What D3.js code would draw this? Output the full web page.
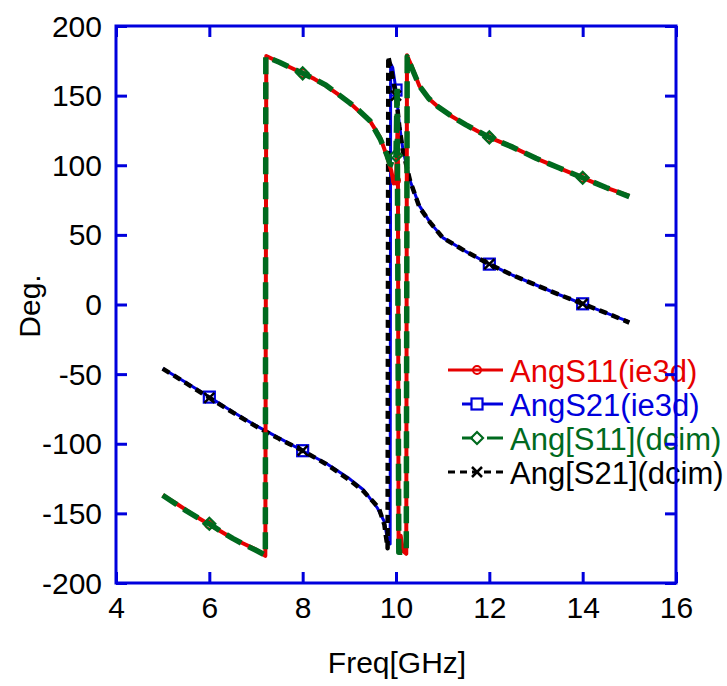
<!DOCTYPE html>
<html>
<head>
<meta charset="utf-8">
<script src="https://cdn.jsdelivr.net/npm/d3@7"></script>
<style>
  html, body { margin: 0; padding: 0; background: #fff; }
  svg { display: block; }
  text { font-family: "Liberation Sans", Arial, Helvetica, sans-serif; }
</style>
</head>
<body>
<svg id="chart" width="727" height="686"></svg>
<script>
// Phase of S-parameters (degrees) versus frequency (GHz)
const xTicks = [4, 6, 8, 10, 12, 14, 16];
const yTicks = [-200, -150, -100, -50, 0, 50, 100, 150, 200];
const markerFreqs = [6, 8, 10, 12, 14];

// [frequency GHz, angle deg]
const angS11ie3d = [
  [5.0, -137], [5.25, -142], [5.5, -147.5], [5.75, -153], [6.0, -158], [6.25, -163],
  [6.5, -168], [6.75, -172], [7.0, -176], [7.2, -180.5], [7.22, 178.5], [7.5, 174],
  [7.75, 170], [8.0, 166], [8.25, 162], [8.5, 157], [8.8, 150], [9.0, 145],
  [9.2, 139], [9.44, 132], [9.66, 120], [9.81, 106], [9.9, 96], [9.95, 87],
  [10.0, 89], [10.04, 134], [10.055, -175], [10.1, -166], [10.15, -177], [10.22, -179],
  [10.235, 179], [10.35, 170], [10.5, 157], [10.7, 148], [10.9, 142], [11.2, 135],
  [11.5, 129], [12.0, 120], [12.5, 113], [13.0, 105], [13.5, 98], [14.0, 91],
  [14.5, 84], [15.0, 78]
];

const angS21ie3d = [
  [5.0, -46], [5.5, -56], [6.0, -66.5], [6.5, -77], [7.0, -87], [7.5, -96],
  [8.0, -105], [8.5, -114], [9.0, -125], [9.3, -133], [9.6, -146], [9.75, -156],
  [9.83, -171], [9.875, -172], [9.885, 173], [9.93, 170], [10.0, 154], [10.07, 130],
  [10.15, 111], [10.3, 89], [10.5, 71], [10.73, 59], [11.0, 48], [11.5, 38],
  [12.0, 29], [12.5, 21], [13.0, 14], [13.5, 7], [14.0, 0.5], [14.5, -6], [15.0, -12.5]
];

const angS11dcim = [
  [5.0, -137], [5.25, -142.5], [5.5, -148], [5.75, -153], [6.0, -157.5], [6.25, -163],
  [6.5, -168], [6.75, -172.5], [7.0, -176.5], [7.2, -180], [7.21, 178], [7.5, 174],
  [7.75, 170], [8.0, 166], [8.25, 162], [8.5, 157.5], [8.8, 150], [9.0, 145],
  [9.2, 139.5], [9.44, 132], [9.66, 119], [9.81, 107], [9.87, 101], [9.95, 100],
  [10.0, 107], [10.025, 157], [10.06, -178], [10.22, -178], [10.24, 178], [10.35, 169],
  [10.5, 157], [10.7, 148], [10.9, 142], [11.2, 135], [11.5, 129], [12.0, 120],
  [12.5, 113], [13.0, 105], [13.5, 98], [14.0, 91], [14.5, 84], [15.0, 77.5]
];

const angS21dcim = [
  [5.0, -46], [5.5, -56.5], [6.0, -67], [6.5, -77.5], [7.0, -87.5], [7.5, -96.5],
  [8.0, -105], [8.5, -114.5], [9.0, -126], [9.3, -134], [9.63, -146], [9.75, -158],
  [9.82, -175], [9.835, 178], [9.9, 168], [10.0, 150], [10.07, 128], [10.15, 110],
  [10.3, 89], [10.5, 70], [10.73, 59], [11.0, 48], [11.5, 38], [12.0, 29],
  [12.5, 21], [13.0, 14], [13.5, 7], [14.0, 0.5], [14.5, -6], [15.0, -13]
];

const legendLabels = ["AngS11(ie3d)", "AngS21(ie3d)", "Ang[S11](dcim)", "Ang[S21](dcim)"];

const svg = d3.select("#chart");
const plotLeft = 116, plotRight = 676, plotTop = 26, plotBottom = 583;
const axisBlue = "#0000dd";

const x = d3.scaleLinear().domain([4, 16]).range([plotLeft, plotRight]);
const y = d3.scaleLinear().domain([-200, 200]).range([plotBottom, plotTop]);

const pathGen = d3.line().x(d => x(d[0])).y(d => y(d[1]));

const series = [
  { data: angS21ie3d, color: "#0000dd", width: 3, dash: null, marker: "square" },
  { data: angS21dcim, color: "#000000", width: 4.5, dash: "8,5", marker: "cross" },
  { data: angS11ie3d, color: "#e60000", width: 4, dash: null, marker: "circle" },
  { data: angS11dcim, color: "#006a1e", width: 5.5, dash: "17,8", marker: "diamond" }
];

svg.append("clipPath").attr("id", "plotClip")
  .append("rect").attr("x", plotLeft).attr("y", plotTop)
  .attr("width", plotRight - plotLeft).attr("height", plotBottom - plotTop);

const plot = svg.append("g").attr("clip-path", "url(#plotClip)");

function drawMarker(g, kind, cx, cy, color) {
  if (kind === "circle") {
    g.append("circle").attr("cx", cx).attr("cy", cy).attr("r", 4)
      .attr("fill", "none").attr("stroke", color).attr("stroke-width", 2);
  } else if (kind === "square") {
    g.append("rect").attr("x", cx - 5.5).attr("y", cy - 5.5).attr("width", 11).attr("height", 11)
      .attr("fill", "none").attr("stroke", color).attr("stroke-width", 2.2);
  } else if (kind === "diamond") {
    g.append("path")
      .attr("d", `M${cx - 6},${cy} L${cx},${cy - 6} L${cx + 6},${cy} L${cx},${cy + 6} Z`)
      .attr("fill", "none").attr("stroke", color).attr("stroke-width", 2.2);
  } else if (kind === "cross") {
    g.append("path")
      .attr("d", `M${cx - 5},${cy - 5} L${cx + 5},${cy + 5} M${cx - 5},${cy + 5} L${cx + 5},${cy - 5}`)
      .attr("fill", "none").attr("stroke", color).attr("stroke-width", 2.5);
  }
}

series.forEach(s => {
  plot.append("path")
    .datum(s.data)
    .attr("d", pathGen)
    .attr("fill", "none")
    .attr("stroke", s.color)
    .attr("stroke-width", s.width)
    .attr("stroke-linejoin", "round")
    .attr("stroke-dasharray", s.dash);
  const mg = plot.append("g");
  markerFreqs.forEach(f => {
    const p = s.data.find(d => d[0] === f);
    if (p) drawMarker(mg, s.marker, x(p[0]), y(p[1]), s.color);
  });
});

// Legend
const legendRows = [
  { color: "#e60000", marker: "circle", segs: [[448, 503]], dash: null },
  { color: "#0000dd", marker: "square", segs: [[462, 472], [483, 503]], dash: null },
  { color: "#006a1e", marker: "diamond", segs: [[462, 473], [487, 503]], dash: null },
  { color: "#000000", marker: "cross", segs: [[448, 503]], dash: "7,5" }
];
const legend = svg.append("g");
const rowY = [370, 404, 438, 472];
legendRows.forEach((r, i) => {
  const cy = rowY[i];
  r.segs.forEach(sg => {
    legend.append("line").attr("x1", sg[0]).attr("x2", sg[1]).attr("y1", cy).attr("y2", cy)
      .attr("stroke", r.color).attr("stroke-width", 3).attr("stroke-dasharray", r.dash);
  });
  drawMarker(legend, r.marker, 477, cy, r.color);
  legend.append("text").attr("x", 510).attr("y", cy + 11.5)
    .attr("fill", r.color).attr("font-size", 31).text(legendLabels[i]);
});

// Axes: ticks point inward on all four sides
const fontSize = 30;
const fmt = d => String(d);
const xAxis = svg.append("g").attr("transform", `translate(0,${plotBottom})`)
  .call(d3.axisBottom(x).tickValues(xTicks).tickSize(-11).tickPadding(14).tickFormat(fmt));
const yAxis = svg.append("g").attr("transform", `translate(${plotLeft},0)`)
  .call(d3.axisLeft(y).tickValues(yTicks).tickSize(-11).tickPadding(14).tickFormat(fmt));
const xTop = svg.append("g").attr("transform", `translate(0,${plotTop})`)
  .call(d3.axisTop(x).tickValues(xTicks).tickSize(-11).tickFormat(""));
const yRight = svg.append("g").attr("transform", `translate(${plotRight},0)`)
  .call(d3.axisRight(y).tickValues(yTicks).tickSize(-11).tickFormat(""));

[xAxis, yAxis, xTop, yRight].forEach(g => {
  g.select(".domain").remove();
  g.selectAll(".tick line").attr("stroke", axisBlue).attr("stroke-width", 3);
  g.selectAll(".tick text").attr("fill", "#000").attr("font-size", fontSize)
    .attr("font-family", "'Liberation Sans', Arial, sans-serif");
});
xAxis.selectAll(".tick text").attr("dy", null).attr("y", 35);
yAxis.selectAll(".tick text").attr("dy", null).attr("y", 0).attr("transform", "translate(0,10)");

svg.append("rect").attr("x", plotLeft).attr("y", plotTop)
  .attr("width", plotRight - plotLeft).attr("height", plotBottom - plotTop)
  .attr("fill", "none").attr("stroke", axisBlue).attr("stroke-width", 3);

// Axis titles
svg.append("text").attr("x", (plotLeft + plotRight) / 2 + 1).attr("y", 673)
  .attr("text-anchor", "middle").attr("font-size", 30).attr("fill", "#000").text("Freq[GHz]");
svg.append("text").attr("transform", "translate(40,306) rotate(-90)")
  .attr("text-anchor", "middle").attr("font-size", 30).attr("fill", "#000").text("Deg.");
</script>
</body>
</html>
